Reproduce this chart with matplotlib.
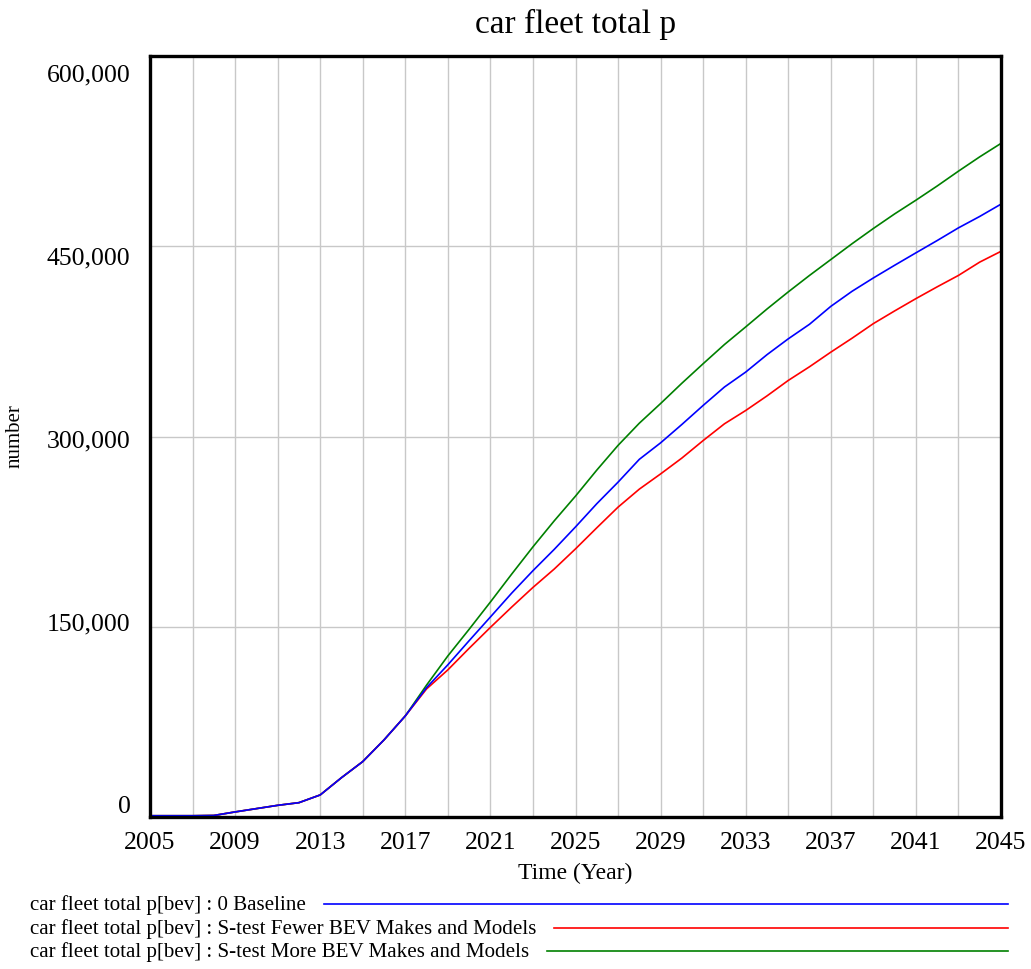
import matplotlib
matplotlib.use("Agg")
import matplotlib.pyplot as plt
import matplotlib.transforms as mtransforms
from matplotlib.lines import Line2D

plt.rcParams['font.family'] = ['Liberation Serif', 'DejaVu Serif']

years = list(range(2005, 2046))

# common history up to 2017
hist = [1000, 1000, 1000, 1200, 4000, 6600, 9200, 11300, 17400, 31000,
        43700, 60800, 79700]

baseline = hist + [102000, 120000, 139000, 157700, 176500, 194200, 211000,
                   228700, 247000, 264000, 282000, 295000, 309500, 324500,
                   339000, 350800, 364500, 377000, 388500, 402600, 414500,
                   425000, 435000, 444800, 454500, 464500, 473500, 483200]
fewer = hist + [101000, 116000, 133000, 149500, 165500, 181000, 195500,
                211400, 228000, 244300, 258500, 270500, 283000, 296800,
                310000, 320500, 332000, 344200, 355000, 366500, 377500,
                389000, 399000, 408700, 418000, 427000, 437500, 446000]
more = hist + [104000, 127000, 148000, 169500, 191500, 213000, 233500,
               253000, 273500, 293000, 310500, 326000, 342000, 357400,
               372500, 386400, 400500, 414000, 427000, 439500, 452000,
               464000, 475500, 486300, 497500, 509200, 520500, 531100]

series = [
    ("car fleet total p[bev] : 0 Baseline", baseline, "#0000ff"),
    ("car fleet total p[bev] : S-test Fewer BEV Makes and Models", fewer, "#ff0000"),
    ("car fleet total p[bev] : S-test More BEV Makes and Models", more, "#008000"),
]

yticks = [0, 150000, 300000, 450000, 600000]
ytick_labels = ["0", "150,000", "300,000", "450,000", "600,000"]
xticks = list(range(2005, 2046, 4))

W, H = 1031, 970
fig = plt.figure(figsize=(W / 100, H / 100), dpi=100)
ax = fig.add_axes([150 / W, 1 - 818 / H, 851 / W, 761 / H])

# draw in reverse so blue sits on top like the original
for name, vals, col in reversed(series):
    ax.plot(years, vals, color=col, lw=1.2, zorder=3)

ax.set_xlim(2005, 2045)
ax.set_ylim(0, 600000)
ax.set_xticks(xticks)
ax.set_xticks(range(2005, 2046, 2), minor=True)
ax.set_xticklabels([str(x) for x in xticks], fontsize=18.5)
ax.set_yticks(yticks)
ax.set_yticklabels(ytick_labels, fontsize=18.5)
ax.tick_params(axis='both', which='both', length=0)
ax.tick_params(axis='x', pad=10)
ax.tick_params(axis='y', pad=14)
ax.grid(True, which='both', color='#c8c8c8', lw=1.0, zorder=1)

# vensim nudges the y labels toward the middle of the axis
for i, lab in enumerate(ax.get_yticklabels()):
    frac = yticks[i] / 600000
    off = -13 + 29 * frac
    lab.set_transform(lab.get_transform() +
                      mtransforms.ScaledTranslation(0, -off / 100, fig.dpi_scale_trans))

for sp in ax.spines.values():
    sp.set_linewidth(2.4)
    sp.set_zorder(4)

ax.set_title("car fleet total p", fontsize=24, pad=17)
fig.text(575 / W, 1 - 873 / H, "Time (Year)", fontsize=17, ha='center', va='center')
fig.text(15 / W, 1 - 436 / H, "number", fontsize=15, rotation=90, ha='center', va='center')

# legend rows under the axis
fig.canvas.draw()
renderer = fig.canvas.get_renderer()
row_y = [905, 929, 952]
for (name, vals, col), yy in zip(series, row_y):
    t = fig.text(30 / W, 1 - yy / H, name, fontsize=15.1, ha='left', va='center')
    bb = t.get_window_extent(renderer)
    x0 = (bb.x1 + 18) / W
    fig.add_artist(Line2D([x0, 1008 / W], [1 - yy / H, 1 - yy / H],
                          transform=fig.transFigure, color=col, lw=1.2))

fig.savefig("out.png", dpi=100)
